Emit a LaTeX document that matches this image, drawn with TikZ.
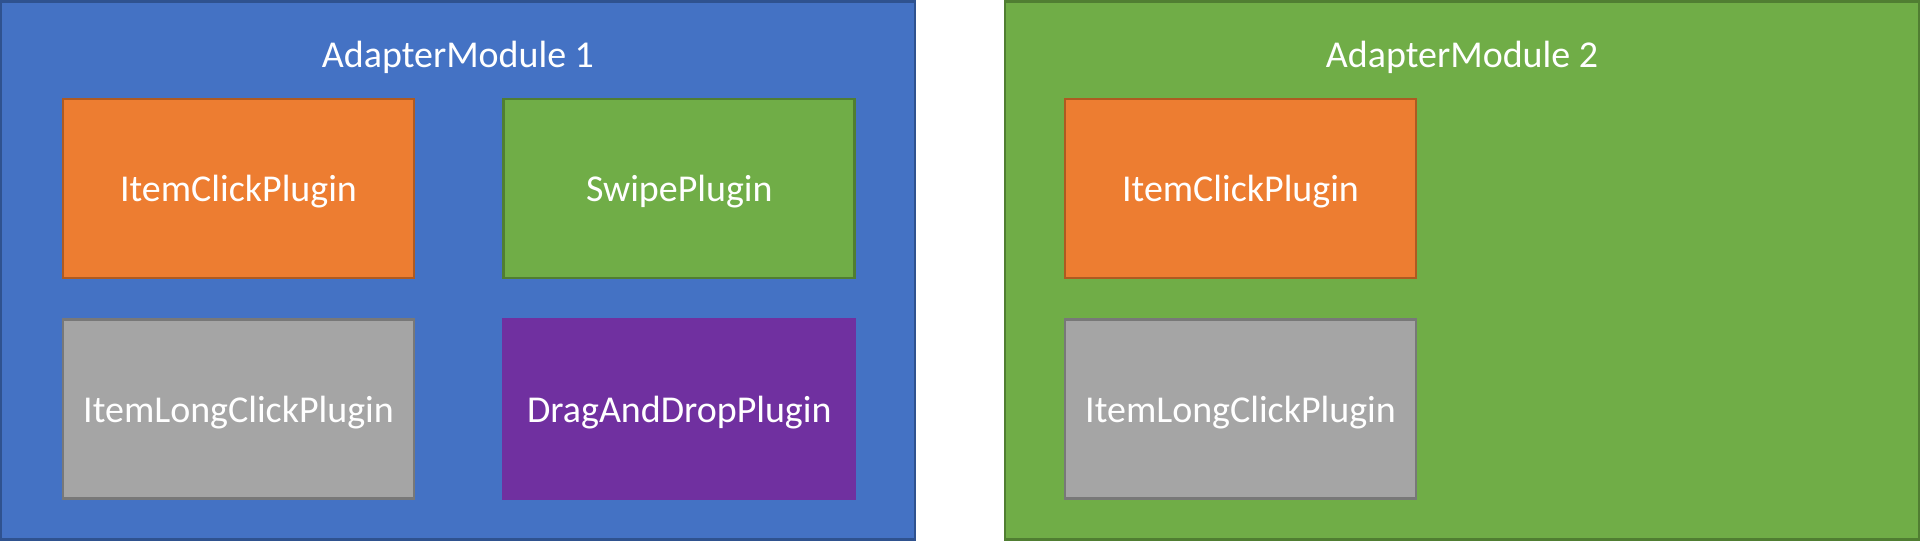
\documentclass[tikz,border=0pt]{standalone}
\usepackage{fontspec}
\setmainfont{Carlito}
\usetikzlibrary{positioning, calc}

\definecolor{moduleblue}{HTML}{4472C4}
\definecolor{moduleblueline}{HTML}{2F528F}
\definecolor{modulegreen}{HTML}{70AD47}
\definecolor{modulegreenline}{HTML}{507E32}
\definecolor{pluginorange}{HTML}{ED7D31}
\definecolor{pluginorangeline}{HTML}{AE5A21}
\definecolor{plugingray}{HTML}{A5A5A5}
\definecolor{plugingrayline}{HTML}{787878}
\definecolor{pluginpurple}{HTML}{7030A0}

\begin{document}
\begin{tikzpicture}[
    % Node styles
    module/.style 2 args={
        rectangle, draw=#2, fill=#1, line width=0.8pt,
        minimum width=9.14cm, minimum height=5.38cm, inner sep=0pt
    },
    plugin/.style 2 args={
        rectangle, draw=#2, fill=#1, line width=0.8pt,
        minimum width=3.51cm, minimum height=1.79cm, inner sep=0pt,
        text height=9.6pt, text depth=2.2pt,
        text=white, font=\fontsize{10.8}{13}\selectfont
    },
    title/.style={text=white, font=\fontsize{10.8}{13}\selectfont, inner sep=0pt,
        text height=9.6pt, text depth=2.2pt},
]

\useasboundingbox (0,0) rectangle (19.2,-5.41);

% ═══════════════════════════════════════════════════════════════
% AdapterModule 1 (left)
% ═══════════════════════════════════════════════════════════════

\node[module={moduleblue}{moduleblueline}] (M1) at (4.58,-2.705) {};
\node[title] at ($(M1.north)+(0,-0.54)$) {AdapterModule 1};

\node[plugin={pluginorange}{pluginorangeline}] (IC1) at (2.385,-1.885) {ItemClickPlugin};
\node[plugin={modulegreen}{modulegreenline}, right=0.87cm of IC1] (SW1) {SwipePlugin};
\node[plugin={plugingray}{plugingrayline}, below=0.39cm of IC1] (LC1) {ItemLongClickPlugin};
\node[plugin={pluginpurple}{pluginpurple}, below=0.39cm of SW1] (DD1) {DragAndDropPlugin};

% ═══════════════════════════════════════════════════════════════
% AdapterModule 2 (right)
% ═══════════════════════════════════════════════════════════════

\node[module={modulegreen}{modulegreenline}] (M2) at (14.62,-2.705) {};
\node[title] at ($(M2.north)+(0,-0.54)$) {AdapterModule 2};

\node[plugin={pluginorange}{pluginorangeline}] (IC2) at (12.405,-1.885) {ItemClickPlugin};
\node[plugin={plugingray}{plugingrayline}, below=0.39cm of IC2] (LC2) {ItemLongClickPlugin};

\end{tikzpicture}
\end{document}
